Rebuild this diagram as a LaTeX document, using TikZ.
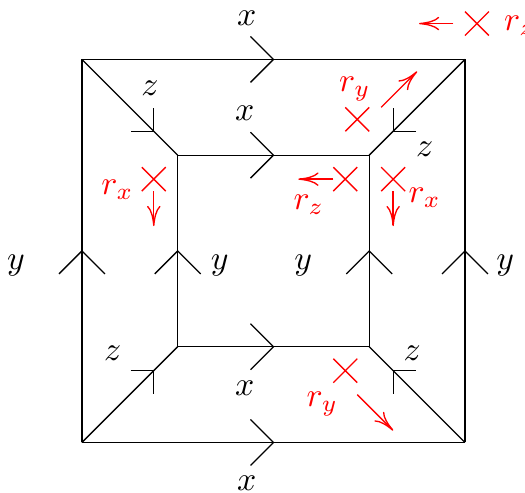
\documentclass[tikz,border=0pt]{standalone}
\usepackage{amsmath,amssymb}
\usepackage{xcolor}
\usepackage{tikz}
\usetikzlibrary{arrows.meta,positioning,calc,decorations.markings,shapes.misc}

\tikzset{
  chev/.style 2 args={postaction={decorate,decoration={markings,
    mark=at position #1 with {\draw[black] (-#2,#2) -- (0,0) -- (-#2,-#2);}}}},
  sidemark/.style={chev={0.5}{0.24}},
  diagmark/.style={chev={0.75}{0.17}},
  rcross/.style={cross out,draw=red,minimum size=0.25cm,inner sep=0pt,outer sep=0pt},
  rarrow/.style={red,-{To[length=6pt,width=4pt]}},
  rlabel/.style={text=red},
}

\begin{document}
\begin{tikzpicture}[scale=1.0]
  \useasboundingbox (-2.856,-2.527) rectangle (2.627,2.621);
  % Corners of the outer (A) and inner (B) squares
  \coordinate (A1) at (-2,-2); \coordinate (A2) at (2,-2);
  \coordinate (A3) at (2,2);   \coordinate (A4) at (-2,2);
  \coordinate (B1) at (-1,-1); \coordinate (B2) at (1,-1);
  \coordinate (B3) at (1,1);   \coordinate (B4) at (-1,1);
  % Sides, oriented to the right and upwards
  \foreach \p/\q in {A4/A3,A1/A2,B4/B3,B1/B2,A1/A4,A2/A3,B1/B4,B2/B3}{
    \draw[sidemark] (\p) -- (\q);
  }
  % Diagonals, oriented from outer to inner corner
  \foreach \i in {1,...,4}{
    \draw[diagmark] (A\i) -- (B\i);
  }
  % Edge labels
  \node (xtop) at (-0.28,2.43) {$x$};
  \node (xin1) at (-0.30,1.44) {$x$};
  \node (xin2) at (-0.30,-1.43) {$x$};
  \node (xbot) at (-0.28,-2.43) {$x$};
  \node (yout1) at (-2.69,-0.15) {$y$};
  \node (yin1) at (-0.56,-0.15) {$y$};
  \node (yin2) at (0.31,-0.15) {$y$};
  \node (yout2) at (2.42,-0.15) {$y$};
  \node (z1) at (-1.29,1.70) {$z$};
  \node (z2) at (1.58,1.06) {$z$};
  \node (z3) at (-1.68,-1.07) {$z$};
  \node (z4) at (1.45,-1.07) {$z$};
  % Red crosses
  \node[rcross] (crz1) at (2.125,2.375) {};
  \node[rcross] (cry1) at (0.875,1.375) {};
  \node[rcross] (crz2) at (0.75,0.75) {};
  \node[rcross] (crx1) at (1.25,0.75) {};
  \node[rcross] (crx2) at (-1.25,0.75) {};
  \node[rcross] (cry2) at (0.75,-1.25) {};
  % Arrow ends
  \coordinate (ez1) at (1.52,2.375);
  \coordinate (sy1) at (1.125,1.5);   \coordinate (ey1) at (1.5,1.875);
  \coordinate (ez2) at (0.26,0.75);
  \coordinate (ex1) at (1.25,0.26);
  \coordinate (ex2) at (-1.25,0.26);
  \coordinate (sy2) at (0.875,-1.5);  \coordinate (ey2) at (1.25,-1.875);
  \draw[rarrow] ($(crz1.west)+(-0.12,0)$) -- (ez1);
  \draw[rarrow] (sy1) -- (ey1);
  \draw[rarrow] (crz2.west) -- (ez2);
  \draw[rarrow] (crx1.south) -- (ex1);
  \draw[rarrow] (crx2.south) -- (ex2);
  \draw[rarrow] (sy2) -- (ey2);
  % Red labels
  \node[rlabel] (lrz1) at (2.57,2.35) {$r_z$};
  \node[rlabel] (lry1) at (0.85,1.69) {$r_y$};
  \node[rlabel] (lrz2) at (0.37,0.48) {$r_z$};
  \node[rlabel] (lrx1) at (1.58,0.56) {$r_x$};
  \node[rlabel] (lrx2) at (-1.63,0.64) {$r_x$};
  \node[rlabel] (lry2) at (0.51,-1.60) {$r_y$};
\end{tikzpicture}
\end{document}
